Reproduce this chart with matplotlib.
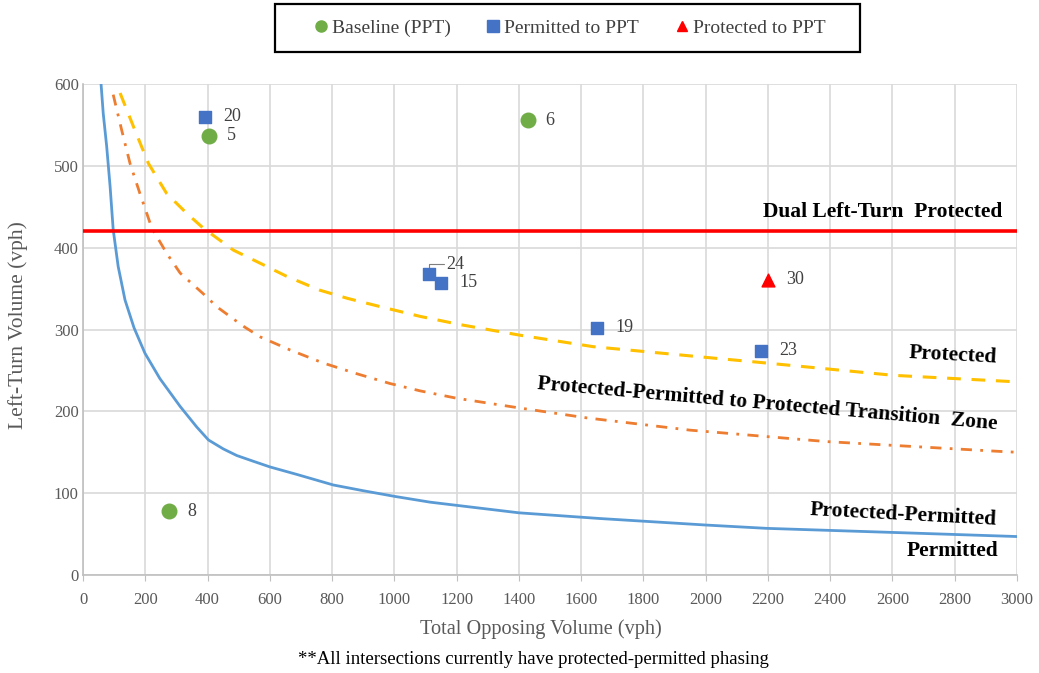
import matplotlib
matplotlib.use("Agg")
import matplotlib.pyplot as plt
from matplotlib.lines import Line2D
from matplotlib.patches import Rectangle

# ---- data ----
perm_x = [58, 65, 76, 87, 97, 113, 135, 164, 199, 247, 312, 365, 403, 451, 494, 547, 601, 686,
          804, 900, 1002, 1115, 1400, 1661, 2003, 2196, 2602, 3000]
perm_y = [600, 564, 524, 475, 422, 377, 336, 302, 271, 240, 206, 181, 165, 154, 146, 139, 132, 123,
          110, 103, 96, 89, 76, 69, 61, 57, 52, 47]

prot_x = [119, 162, 210, 269, 333, 386, 483, 569, 654, 761, 850, 954, 1083, 1211, 1404, 1639,
          1971, 2196, 2603, 3000]
prot_y = [589, 548, 503, 466, 442, 424, 397, 381, 365, 348, 338, 328, 316, 306, 293, 279,
          267, 259, 244, 236]

trans_x = [97, 124, 151, 183, 221, 269, 312, 397, 429, 515, 569, 665, 772, 879, 986, 1083,
           1200, 1404, 1618, 1950, 2389, 2946, 3000]
trans_y = [587, 544, 503, 466, 424, 393, 369, 340, 328, 304, 291, 275, 259, 246, 234, 225,
           216, 204, 192, 177, 163, 151, 150]

dual_level = 420

base_x = [405, 1428, 276]
base_y = [537, 556, 78]
base_lbl = ["5", "6", "8"]

pmt_x = [392, 1110, 1150, 1651, 2178]
pmt_y = [560, 368, 357, 302, 274]
pmt_lbl = ["20", "24", "15", "19", "23"]

prt_x = [2200]
prt_y = [361]
prt_lbl = ["30"]

xticks = list(range(0, 3001, 200))
yticks = list(range(0, 601, 100))

serif = ["Liberation Serif", "DejaVu Serif"]
plt.rcParams["font.family"] = serif

fig = plt.figure(figsize=(10.39, 6.73), dpi=100)
ax = fig.add_axes([83/1039, 1-575/673, (1017-83)/1039, (575-84)/673])

grid_c = "#D9D9D9"
ax.set_xlim(0, 3000)
ax.set_ylim(0, 600)
ax.set_xticks(xticks)
ax.set_yticks(yticks)
ax.grid(True, color=grid_c, lw=1.2)
ax.set_axisbelow(True)
for s in ["top", "right"]:
    ax.spines[s].set_visible(False)
for s in ["left", "bottom"]:
    ax.spines[s].set_color("#BFBFBF")
    ax.spines[s].set_linewidth(1.2)
ax.tick_params(axis="x", colors="#BFBFBF", length=4, labelcolor="#595959", labelsize=12, pad=8)
ax.tick_params(axis="y", length=0, labelcolor="#595959", labelsize=12, pad=3)

ax.plot(perm_x, perm_y, color="#5B9BD5", lw=2.0, zorder=3)
ax.plot(prot_x, prot_y, color="#FFC000", lw=2.2, dashes=(4.5, 3.5), zorder=3)
ax.plot(trans_x, trans_y, color="#ED7D31", lw=2.0, dashes=(4, 3, 1, 3), zorder=3)
ax.axhline(dual_level, color="#FF0000", lw=2.6, zorder=3)

ax.scatter(base_x, base_y, s=110, marker="o", color="#70AD47", zorder=5)
ax.scatter(pmt_x, pmt_y, s=85, marker="s", color="#4472C4", zorder=5)
ax.scatter(prt_x, prt_y, s=85, marker="^", color="#FF0000", zorder=5)

lbl_kw = dict(fontsize=13, color="#404040", va="center", ha="left")
for x, y, t in zip(base_x, base_y, base_lbl):
    ax.annotate(t, (x, y), xytext=(13, 0), textcoords="offset points", **lbl_kw)
for x, y, t in zip(pmt_x, pmt_y, pmt_lbl):
    if t == "24":
        ax.annotate(t, (x, y), xytext=(13, 7), textcoords="offset points",
                    arrowprops=dict(arrowstyle="-", color="#7F7F7F", lw=0.8,
                                    connectionstyle="angle,angleA=0,angleB=90,rad=0",
                                    shrinkA=0, shrinkB=2), **lbl_kw)
    else:
        ax.annotate(t, (x, y), xytext=(13, 0), textcoords="offset points", **lbl_kw)
for x, y, t in zip(prt_x, prt_y, prt_lbl):
    ax.annotate(t, (x, y), xytext=(13, 0), textcoords="offset points", **lbl_kw)

bold = dict(fontsize=15.5, fontweight="bold", color="black", ha="center", va="center")
ax.text(2567, 444, "Dual Left-Turn  Protected", **bold)
ax.text(2795, 269, "Protected", rotation=-3, **bold)
ax.text(2197, 209, "Protected-Permitted to Protected Transition  Zone", rotation=-5, **bold)
ax.text(2634, 73, "Protected-Permitted", rotation=-3, **bold)
ax.text(2792, 29, "Permitted", **bold)

ax.set_ylabel("Left-Turn Volume (vph)", fontsize=15.5, color="#595959")
ax.yaxis.label.set_va("center")
ax.yaxis.label.set_ha("center")
ax.yaxis.set_label_coords((18 - 83) / 934, (575 - 325) / 491)
ax.set_xlabel("Total Opposing Volume (vph)", fontsize=14.6, color="#595959")
ax.xaxis.label.set_va("center")
ax.xaxis.set_label_coords((541 - 83) / 934, -(629 - 575) / 491)
fig.text(533/1039, 1-660/673, "**All intersections currently have protected-permitted phasing",
         ha="center", va="center", fontsize=13.5, color="black")

handles = [
    Line2D([], [], ls="", marker="o", color="#70AD47", markersize=8, label="Baseline (PPT)"),
    Line2D([], [], ls="", marker="s", color="#4472C4", markersize=8, label="Permitted to PPT"),
    Line2D([], [], ls="", marker="^", color="#FF0000", markersize=7, label="Protected to PPT"),
]
leg = fig.legend(handles=handles, loc="center",
                 bbox_to_anchor=(570/1039, 1-28/673),
                 ncol=3, frameon=False, fontsize=14,
                 handletextpad=0.26, columnspacing=1.9, borderpad=0.0,
                 handlelength=0.6, borderaxespad=0)
for t in leg.get_texts():
    t.set_color("#404040")
fig.patches.append(Rectangle((275/1039, 1-52/673), 585/1039, 48/673,
                             transform=fig.transFigure, fill=False,
                             edgecolor="black", linewidth=1.6))

fig.savefig("out.png", dpi=100)
